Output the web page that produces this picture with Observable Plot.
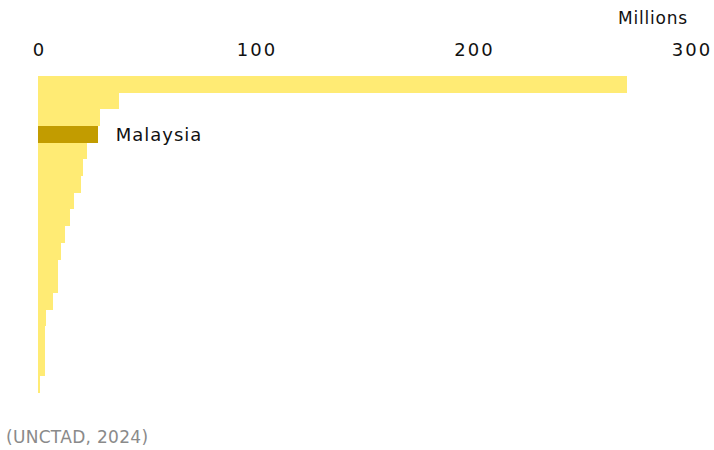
<!DOCTYPE html>
<html>
<head>
<meta charset="utf-8">
<script src="https://cdn.jsdelivr.net/npm/d3@7"></script>
<script src="https://cdn.jsdelivr.net/npm/@observablehq/plot@0.6"></script>
<style>
  html, body { margin: 0; padding: 0; background: #fff; }
  body { width: 714px; height: 450px; overflow: hidden; font-family: "DejaVu Sans", sans-serif; }
  #caption { font-size: 17px; color: #8a8a8a; margin-left: 6px; margin-top: 7px; letter-spacing: 0.3px; }
  .ticklab text { letter-spacing: 2px; }
  .unitlab text { letter-spacing: 0.8px; }
  .hilab text { letter-spacing: 1px; }
</style>
</head>
<body>
<div id="chart"></div>
<div id="caption">(UNCTAD, 2024)</div>
<script>
const economies = ["Economy 1","Economy 2","Economy 3","Malaysia","Economy 5","Economy 6","Economy 7","Economy 8","Economy 9","Economy 10","Economy 11","Economy 12","Economy 13","Economy 14","Economy 15","Economy 16","Economy 17","Economy 18","Economy 19"];
const values = [270.8, 37.4, 28.6, 27.7, 22.7, 20.6, 19.8, 16.7, 14.7, 12.4, 10.6, 9.4, 9.2, 6.8, 3.7, 3.2, 3.1, 3.0, 0.8];
const highlight = "Malaysia";
const xTicks = [0, 100, 200, 300];
const unitLabel = "Millions";

const data = economies.map((name, i) => ({name, value: values[i]}));

const chart = Plot.plot({
  width: 714,
  height: 420,
  marginTop: 76,
  marginBottom: 27,
  marginLeft: 38,
  marginRight: 23.5,
  style: {fontFamily: "DejaVu Sans, sans-serif", fontSize: "18px", color: "#111", background: "#fff"},
  x: {domain: [0, 300], axis: null},
  y: {domain: economies, axis: null, padding: 0, round: false},
  marks: [
    Plot.axisX(xTicks, {anchor: "top", tickSize: 0, tickPadding: 21, label: null, fontSize: 18, fill: "#111", className: "ticklab", dx: 1}),
    Plot.text([unitLabel], {frameAnchor: "top-right", dy: -65, dx: -3, textAnchor: "end", fontSize: 17, fill: "#111", className: "unitlab"}),
    Plot.barX(data, {x: "value", y: "name", fill: d => d.name === highlight ? "#C29C00" : "#FFEB74", shapeRendering: "crispEdges"}),
    Plot.text(data.filter(d => d.name === highlight), {x: "value", y: "name", text: "name", dx: 17, textAnchor: "start", fontSize: 18, fill: "#111", className: "hilab"})
  ]
});
document.getElementById("chart").appendChild(chart);
</script>
</body>
</html>
